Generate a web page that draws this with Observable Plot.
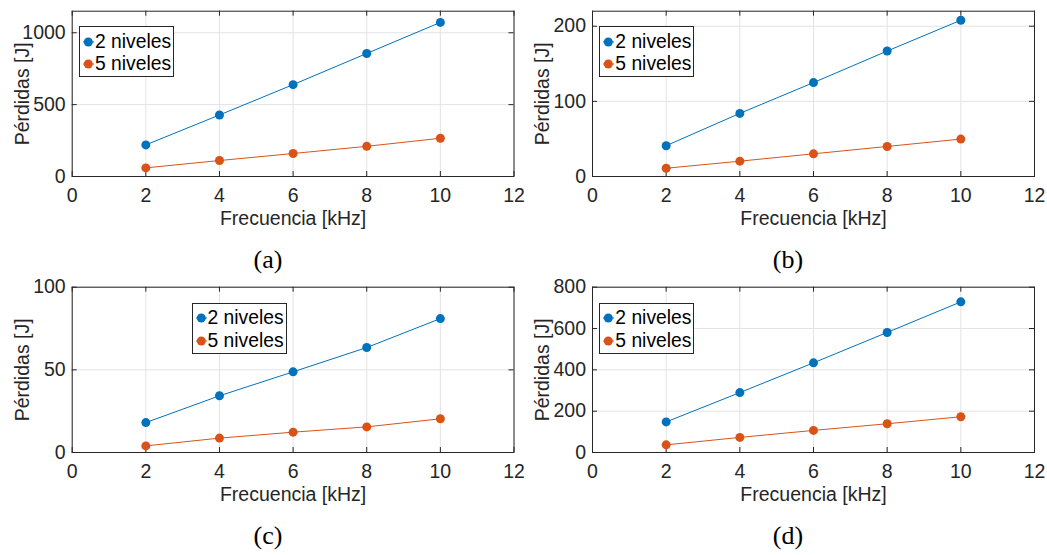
<!DOCTYPE html>
<html>
<head>
<meta charset="utf-8">
<script src="https://cdn.jsdelivr.net/npm/d3@7"></script>
<script src="https://cdn.jsdelivr.net/npm/@observablehq/plot@0.6"></script>
<style>
  html, body { margin: 0; padding: 0; background: #fff; }
  #root { position: relative; width: 1047px; height: 555px; overflow: hidden; background: #fff; }
  .panel { position: absolute; }
  .legend { position: absolute; box-sizing: border-box; border: 1px solid #262626; background: #fff;
            font-family: "Liberation Sans", Arial, sans-serif; font-size: 19.3px; color: #000; }
  .legend .row { position: absolute; left: 0; height: 20px; white-space: nowrap; }
  .legend svg { position: absolute; left: 0; top: 0; }
  .legend span { position: absolute; left: 15px; top: 0; line-height: 20px; }
  .caption { position: absolute; width: 80px; margin-left: -40px; text-align: center;
             font-family: "Liberation Serif", "Times New Roman", serif; font-size: 26px; line-height: 30px; color: #000; }
</style>
</head>
<body>
<div id="root"></div>
<script>
// ---- data ----
const freq = [2, 4, 6, 8, 10];
const seriesNames = ["2 niveles", "5 niveles"];
const seriesColors = ["#0072BD", "#D95319"];
const xTicks = [0, 2, 4, 6, 8, 10, 12];

const a2 = [220, 428, 639, 856, 1072];
const a5 = [60, 111, 160, 210, 266];
const aTicks = [0, 500, 1000];
const aMax = 1150;

const b2 = [41, 84, 125, 167, 208];
const b5 = [11, 20.4, 30.2, 40, 49.8];
const bTicks = [0, 100, 200];
const bMax = 220;

const c2 = [18.1, 34.3, 48.8, 63.5, 81.0];
const c5 = [4.0, 8.7, 12.3, 15.5, 20.4];
const cTicks = [0, 50, 100];
const cMax = 100;

const d2 = [148, 290, 434, 581, 729];
const d5 = [37, 73, 107, 139, 173];
const dTicks = [0, 200, 400, 600, 800];
const dMax = 800;

const captions = ["(a)", "(b)", "(c)", "(d)"];

// ---- layout ----
const H = 240, MT = 10.7, MB = 64;
const leftCol = {x: 0, width: 536, ml: 71.7, mr: 22.5};
const rightCol = {x: 524, width: 523, ml: 68, mr: 13};
const rows = [0, 276];
const ink = "#262626";

function makeTable(s2, s5) {
  const t = [];
  freq.forEach((f, i) => t.push({f, v: s2[i], s: seriesNames[0]}));
  freq.forEach((f, i) => t.push({f, v: s5[i], s: seriesNames[1]}));
  return t;
}

function panel(s2, s5, yTicks, yMax, col) {
  const table = makeTable(s2, s5);
  const W = col.width - col.ml - col.mr;
  const PH = H - MT - MB;
  const tk = 5;
  return Plot.plot({
    width: col.width, height: H,
    marginLeft: col.ml, marginRight: col.mr, marginTop: MT, marginBottom: MB,
    style: {fontFamily: "Liberation Sans, Arial, sans-serif", fontSize: "19.5px", color: ink, background: "transparent", overflow: "visible"},
    x: {domain: [0, 12]},
    y: {domain: [0, yMax]},
    color: {domain: seriesNames, range: seriesColors},
    marks: [
      Plot.ruleX(xTicks, {x: d => d, stroke: "#e3e3e3", strokeWidth: 1}),
      Plot.ruleY(yTicks, {y: d => d, stroke: "#e3e3e3", strokeWidth: 1}),
      Plot.frame({stroke: ink, strokeWidth: 1}),
      Plot.ruleX(xTicks, {x: d => d, insetTop: PH - tk, stroke: ink}),
      Plot.ruleX(xTicks, {x: d => d, insetBottom: PH - tk, stroke: ink}),
      Plot.ruleY(yTicks, {y: d => d, insetRight: W - tk, stroke: ink}),
      Plot.ruleY(yTicks, {y: d => d, insetLeft: W - tk, stroke: ink}),
      Plot.axisX({ticks: xTicks, tickSize: 0, tickPadding: 11.5, tickFormat: d => String(d),
        label: "Frecuencia [kHz]", labelAnchor: "center", labelArrow: "none", labelOffset: 48}),
      Plot.axisY({ticks: yTicks, tickSize: 0, tickPadding: 6.5, tickFormat: d => String(d),
        label: "Pérdidas [J]", labelAnchor: "center", labelArrow: "none", labelOffset: 57}),
      Plot.line(table, {x: "f", y: "v", z: "s", stroke: "s", strokeWidth: 1}),
      Plot.dot(table, {x: "f", y: "v", fill: "s", r: 4.5, stroke: "none"})
    ]
  });
}

function legend(left, top) {
  const div = document.createElement("div");
  div.className = "legend";
  div.style.left = left + "px";
  div.style.top = top + "px";
  div.style.width = "95px";
  div.style.height = "51px";
  const rowTops = [4.7, 27.3];
  seriesNames.forEach((name, i) => {
    const r = document.createElement("div");
    r.className = "row";
    r.style.top = rowTops[i] + "px";
    r.style.width = "93px";
    r.innerHTML = `<svg width="16" height="20"><line x1="3" x2="14" y1="10" y2="10" stroke="${seriesColors[i]}" stroke-width="1"/><circle cx="8.3" cy="10" r="4.5" fill="${seriesColors[i]}"/></svg><span>${name}</span>`;
    div.appendChild(r);
  });
  return div;
}

const root = document.getElementById("root");
const specs = [
  [a2, a5, aTicks, aMax, leftCol, rows[0]],
  [b2, b5, bTicks, bMax, rightCol, rows[0]],
  [c2, c5, cTicks, cMax, leftCol, rows[1]],
  [d2, d5, dTicks, dMax, rightCol, rows[1]]
];
specs.forEach(([s2, s5, t, m, col, top], i) => {
  const svg = panel(s2, s5, t, m, col);
  const wrap = document.createElement("div");
  wrap.className = "panel";
  wrap.style.left = col.x + "px";
  wrap.style.top = top + "px";
  wrap.appendChild(svg);
  root.appendChild(wrap);
});

// legends (positions relative to plot areas)
const legendPos = [
  [leftCol.x + leftCol.ml + 7.3, rows[0] + MT + 15.3],
  [rightCol.x + rightCol.ml + 7.3, rows[0] + MT + 15.3],
  [leftCol.x + leftCol.ml + 119.8, rows[1] + MT + 16],
  [rightCol.x + rightCol.ml + 7.3, rows[1] + MT + 16]
];
legendPos.forEach(([l, t]) => root.appendChild(legend(l, t)));

// captions
const capPos = [[268, 260], [788, 260], [268, 536], [788, 536]];
captions.forEach((c, i) => {
  const d = document.createElement("div");
  d.className = "caption";
  d.textContent = c;
  d.style.left = capPos[i][0] + "px";
  d.style.top = (capPos[i][1] - 15) + "px";
  root.appendChild(d);
});
</script>
</body>
</html>
